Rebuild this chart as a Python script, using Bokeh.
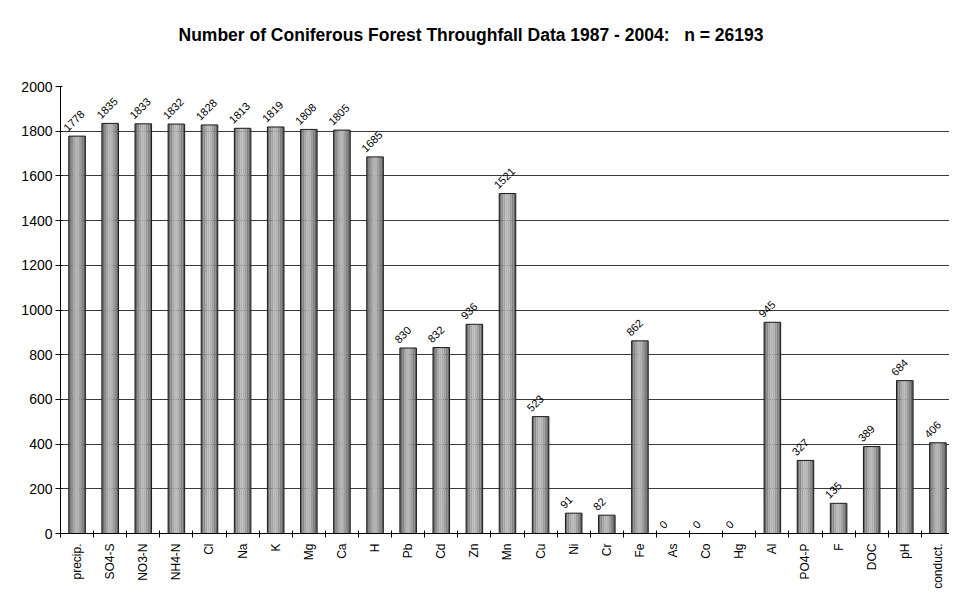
import math
from bokeh.plotting import figure
from bokeh.models import ColumnDataSource, Range1d, FixedTicker, Title
from bokeh.transform import dodge
from bokeh.core.properties import value
from bokeh.embed import file_html
from bokeh.resources import INLINE

categories = ["precip.", "SO4-S", "NO3-N", "NH4-N", "Cl", "Na", "K", "Mg", "Ca", "H",
              "Pb", "Cd", "Zn", "Mn", "Cu", "Ni", "Cr", "Fe", "As", "Co", "Hg",
              "Al", "PO4-P", "F", "DOC", "pH", "conduct."]
counts = [1778, 1835, 1833, 1832, 1828, 1813, 1819, 1808, 1805, 1685,
          830, 832, 936, 1521, 523, 91, 82, 862, 0, 0, 0,
          945, 327, 135, 389, 684, 406]
y_ticks = [0, 200, 400, 600, 800, 1000, 1200, 1400, 1600, 1800, 2000]

xs = [i + 0.5 for i in range(len(categories))]
src = ColumnDataSource(dict(x=xs, y=counts, label=[str(c) for c in counts]))

FONT = "Liberation Sans"

p = figure(width=949, height=591, output_backend="svg", toolbar_location=None,
           x_range=Range1d(0, 26.85), y_range=Range1d(0, 2000),
           min_border_left=60, min_border_right=0, min_border_top=0,
           min_border_bottom=0,
           background_fill_color="white", border_fill_color="white",
           outline_line_color=None)

# spacer between the title and the plot area (added first -> nearest the frame)
spacer = Title(text="\u00a0", text_font_size="8px", standoff=8, text_color="white")
p.add_layout(spacer, "above")

title = Title(text="Number of Coniferous Forest Throughfall Data 1987 - 2004:\u00a0\u00a0 n = 26193",
              align="left", offset=118, standoff=45,
              text_font=FONT, text_font_size="17.5px", text_font_style="bold",
              text_color="black")
p.add_layout(title, "above")

# bars: layered strips to imitate the shaded cylinder look
strip_colors = ["#6a6a6a", "#8a8a8a", "#a4a4a4", "#b4b4b4", "#b0b0b0",
                "#9c9c9c", "#848484", "#676767"]
bar_w = 0.5
n = len(strip_colors)
sw = bar_w / n
for k, col in enumerate(strip_colors):
    off = -bar_w / 2 + sw * (k + 0.5)
    p.vbar(x=dodge("x", off, range=p.x_range), top="y", bottom=0, width=sw * 1.02,
           source=src, fill_color=col, line_color=None)
p.vbar(x="x", top="y", bottom=0, width=bar_w, source=src,
       fill_color=None, line_color="#1a1a1a", line_width=1)

p.text(x="x", y="y", text="label", source=src, angle=math.pi / 4,
       x_offset=-9, y_offset=-4, text_align="left", text_baseline="bottom",
       text_font=value(FONT), text_font_size="11px", text_color="black")

# x axis: labels at centers, ticks at category boundaries (minor ticks)
p.xaxis.ticker = FixedTicker(ticks=xs, minor_ticks=list(range(len(categories) + 1)))
p.xaxis.major_label_overrides = {x: c for x, c in zip(xs, categories)}
p.xaxis.major_label_orientation = math.pi / 2
p.xaxis.major_tick_line_color = None
p.xaxis.minor_tick_in = 3
p.xaxis.minor_tick_out = 4
p.xaxis.minor_tick_line_color = "black"
p.xaxis.axis_line_color = "black"
p.xaxis.major_label_text_font = FONT
p.xaxis.major_label_text_font_size = "12px"
p.xaxis.major_label_text_color = "black"
p.xaxis.major_label_standoff = 4

p.yaxis.ticker = FixedTicker(ticks=y_ticks)
p.yaxis.minor_tick_line_color = None
p.yaxis.major_tick_in = 2
p.yaxis.major_tick_out = 5
p.yaxis.axis_line_color = "black"
p.yaxis.major_tick_line_color = "black"
p.yaxis.major_label_text_font = FONT
p.yaxis.major_label_text_font_size = "14px"
p.yaxis.major_label_text_color = "black"
p.yaxis.major_label_standoff = 3

p.xgrid.grid_line_color = None
p.ygrid.ticker = FixedTicker(ticks=y_ticks)
p.ygrid.grid_line_color = "#3a3a3a"
p.ygrid.grid_line_width = 1

open("out.html", "w").write(file_html(p, INLINE))
